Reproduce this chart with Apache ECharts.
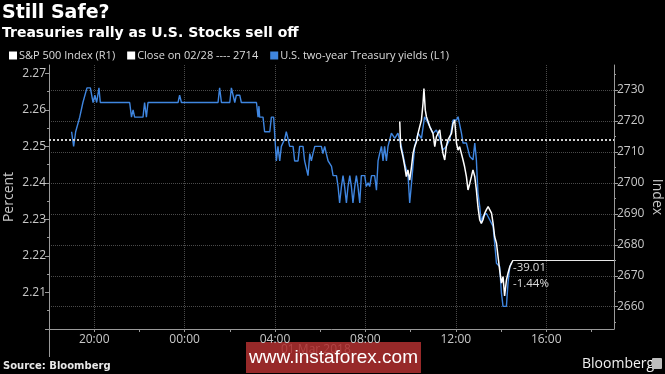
<!DOCTYPE html>
<html><head><meta charset="utf-8">
<script src="https://cdn.jsdelivr.net/npm/echarts@6/dist/echarts.min.js"></script>
<style>html,body{margin:0;padding:0;background:#000;}#c{width:665px;height:374px;}</style>
</head><body><div id="c"></div>
<script>
// x values are hours counted from 28 Feb 2018 00:00 (so 24 = 01 Mar 00:00)
const xLabelHours = [20, 24, 28, 32, 36, 40];
const xTickHours = [18, 20, 22, 24, 26, 28, 30, 32, 34, 36, 38, 40, 42];
const leftTicks = [2.21, 2.22, 2.23, 2.24, 2.25, 2.26, 2.27];
const leftTickMarks = [2.20, 2.21, 2.22, 2.23, 2.24, 2.25, 2.26, 2.27];
const leftMinorTicks = [2.205, 2.215, 2.225, 2.235, 2.245, 2.255, 2.265];
const rightTicks = [2660, 2670, 2680, 2690, 2700, 2710, 2720, 2730];
const rightMinorTicks = [2655, 2665, 2675, 2685, 2695, 2705, 2715, 2725, 2735];
const closeValue = 2714;
const spxChange = '-39.01';
const spxChangePct = '-1.44%';
const dateLabel = '01 Mar 2018';

const yieldHours = [
  19.00,19.09,19.18,19.36,19.50,19.68,19.83,19.95,20.03,20.11,20.21,20.27,
  21.57,21.65,21.72,21.79,22.16,22.23,22.31,22.38,23.71,23.78,23.86,
  25.48,25.55,25.63,26.00,26.07,26.14,26.22,26.29,26.44,26.51,
  27.18,27.25,27.29,27.32,27.47,27.54,27.77,27.84,27.94,
  28.00,28.06,28.13,28.21,28.28,28.43,28.50,28.58,28.65,28.80,28.87,
  29.02,29.09,29.24,29.31,29.46,29.54,29.61,29.68,29.76,
  30.05,30.12,30.20,30.27,30.35,30.42,30.50,30.57,30.72,30.79,30.86,30.94,
  31.01,31.08,31.16,31.23,31.31,31.38,31.45,31.53,31.60,31.67,31.75,31.82,31.97,
  32.04,32.12,32.19,32.27,32.41,32.49,32.56,32.63,32.71,32.78,32.85,32.93,
  33.00,33.15,33.30,33.44,33.59,33.74,33.89,33.96,
  34.04,34.18,34.33,34.48,34.62,34.70,34.85,34.99,
  35.14,35.29,35.43,35.58,35.73,35.88,
  36.03,36.10,36.25,36.32,36.47,36.62,36.76,36.84,36.91,36.98,
  37.06,37.13,37.20,37.35,37.50,37.65,37.72,37.80,37.94,
  38.02,38.09,38.24,38.31,38.39,38.46
];
const yieldValues = [
  2.254,2.250,2.254,2.258,2.262,2.266,2.266,2.262,2.264,2.262,2.266,2.262,
  2.262,2.258,2.260,2.258,2.258,2.262,2.258,2.262,2.262,2.264,2.262,
  2.262,2.266,2.262,2.262,2.266,2.266,2.262,2.264,2.264,2.262,
  2.262,2.258,2.261,2.258,2.258,2.254,2.254,2.258,2.258,
  2.252,2.246,2.250,2.246,2.250,2.252,2.254,2.252,2.250,2.250,2.246,
  2.246,2.250,2.250,2.246,2.242,2.248,2.246,2.248,2.250,
  2.250,2.248,2.250,2.248,2.246,2.246,2.2445,2.242,2.242,2.239,2.2345,2.239,
  2.242,2.239,2.2345,2.239,2.242,2.239,2.2345,2.239,2.242,2.239,2.2345,2.242,2.242,
  2.239,2.240,2.239,2.242,2.242,2.238,2.246,2.248,2.250,2.246,2.250,2.246,
  2.250,2.2536,2.2522,2.2536,2.250,2.2454,2.2417,2.2345,
  2.2399,2.250,2.2536,2.2522,2.2581,2.2572,2.2554,2.2536,
  2.2545,2.2522,2.249,2.250,2.2518,2.2572,
  2.2572,2.2581,2.2536,2.2509,2.2509,2.2472,2.2463,2.2509,2.2463,2.2372,
  2.2335,2.229,2.2308,2.2317,2.2299,2.2281,2.2235,2.218,2.2171,
  2.2098,2.2062,2.2062,2.2126,2.2171,2.218
];

const spxHours = [
  33.52,33.56,33.66,33.74,33.81,33.88,33.96,34.04,34.11,34.18,34.26,34.33,34.40,34.48,34.55,34.59,34.65,34.70,34.85,34.99,
  35.07,35.14,35.29,35.36,35.43,35.51,35.58,35.65,35.81,35.88,35.95,36.03,36.10,36.17,36.32,36.39,36.47,36.54,36.62,36.69,
  36.76,36.84,36.91,36.98,37.06,37.13,37.20,37.28,37.35,37.43,37.50,37.58,37.65,37.72,37.80,37.87,37.94,38.02,38.09,38.16,
  38.24,38.31,38.39,38.46,38.53
];
const spxValues = [
  2719.8,2711.7,2708.5,2705.3,2702.0,2704.2,2700.9,2705.2,2709.6,2711.7,2713.3,2716.0,2718.1,2720.3,2725.7,2730.5,2723.5,2721.4,2718.1,2716.0,
  2711.7,2714.9,2717.1,2712.8,2709.6,2707.4,2711.7,2713.9,2716.0,2719.2,2720.3,2712.8,2710.6,2711.7,2707.4,2705.2,2702.0,2697.7,2699.9,2702.0,
  2704.2,2702.0,2697.7,2692.3,2688.0,2686.9,2688.0,2690.2,2691.3,2692.3,2692.9,2690.2,2686.9,2682.6,2680.5,2676.2,2671.9,2667.6,2669.7,2663.5,
  2668.6,2670.8,2672.9,2674.0,2675.0
];

function pairs(xs, ys) {
  const n = Math.min(xs.length, ys.length), out = [];
  for (let i = 0; i < n; i++) out.push([xs[i], ys[i]]);
  return out;
}
const yieldData = pairs(yieldHours, yieldValues);
const spxData = pairs(spxHours, spxValues);
const spxLast = spxData[spxData.length - 1];

const X_MIN = 18, X_MAX = 43;
const L_MIN = 2.20, L_MAX = 2.27227;
const R_MIN = 2652.8, R_MAX = 2738.08;
const labelColor = '#c8c8c8';
const axisColor = '#9a9a9a';
const gridColor = '#4a4a4a';
const tickFont = 'Open Sans';

function minorAxis(position, min, max, values) {
  return {
    type: 'value', position: position, min: min, max: max,
    axisLine: {show: false},
    axisTick: {show: true, customValues: values, length: 2, lineStyle: {color: axisColor}},
    axisLabel: {show: false},
    splitLine: {show: false}
  };
}

const chart = echarts.init(document.getElementById('c'), null, {renderer: 'canvas'});
chart.setOption({
  backgroundColor: '#000',
  animation: false,
  title: {
    left: 0, top: 3, padding: [0, 0, 0, 2], itemGap: 0,
    text: 'Still Safe?',
    textStyle: {color: '#fff', fontFamily: 'DejaVu Sans', fontWeight: 'bold', fontSize: 19, lineHeight: 21},
    subtext: 'Treasuries rally as U.S. Stocks sell off',
    subtextStyle: {color: '#fff', fontFamily: 'DejaVu Sans', fontWeight: 'bold', fontSize: 14, lineHeight: 18}
  },
  legend: {
    left: 9, top: 50, padding: 0, itemGap: 12, itemWidth: 8, itemHeight: 8, icon: 'rect',
    textStyle: {color: '#dcdcdc', fontFamily: tickFont, fontSize: 11, padding: [0, 0, 0, -3]},
    data: ['S&P 500 Index (R1)', 'Close on 02/28 ---- ' + closeValue, 'U.S. two-year Treasury yields (L1)']
  },
  grid: {left: 49, right: 51, top: 65, bottom: 45, containLabel: false, outerBoundsMode: 'none'},
  xAxis: [
    {
      type: 'value', min: X_MIN, max: X_MAX, position: 'bottom',
      axisLine: {onZero: false, lineStyle: {color: axisColor, width: 1}},
      axisTick: {show: false, customValues: xLabelHours},
      axisLabel: {
        customValues: xLabelHours, color: labelColor, fontFamily: tickFont, fontSize: 12, margin: 5,
        formatter: v => String(Math.round(v) % 24).padStart(2, '0') + ':00'
      },
      splitLine: {show: true, lineStyle: {color: gridColor, type: 'dotted', width: 1}}
    },
    {
      type: 'value', min: X_MIN, max: X_MAX, position: 'bottom',
      axisLine: {show: false, onZero: false},
      axisTick: {show: true, customValues: xTickHours, length: 3, lineStyle: {color: axisColor}},
      axisLabel: {show: false},
      splitLine: {show: false}
    },
    {
      type: 'value', min: X_MIN, max: X_MAX, position: 'bottom',
      axisLine: {show: false, onZero: false},
      axisTick: {show: true, customValues: [X_MIN], length: 28, lineStyle: {color: axisColor}},
      axisLabel: {show: false},
      splitLine: {show: false}
    }
  ],
  yAxis: [
    {
      type: 'value', position: 'left', min: L_MIN, max: L_MAX,
      name: 'Percent', nameLocation: 'middle', nameGap: 33, nameRotate: 90, nameMoveOverlap: false,
      nameTextStyle: {color: labelColor, fontFamily: tickFont, fontSize: 14},
      axisLine: {show: true, lineStyle: {color: axisColor}},
      axisTick: {show: true, customValues: leftTickMarks, length: 4, lineStyle: {color: axisColor}},
      axisLabel: {customValues: leftTicks, color: labelColor, fontFamily: tickFont, fontSize: 12, margin: 3,
        formatter: v => v.toFixed(2)},
      splitLine: {show: false}
    },
    {
      type: 'value', position: 'right', min: R_MIN, max: R_MAX,
      name: 'Index', nameLocation: 'middle', nameGap: 36, nameRotate: -90, nameMoveOverlap: false,
      nameTextStyle: {color: labelColor, fontFamily: tickFont, fontSize: 14},
      axisLine: {show: true, lineStyle: {color: axisColor}},
      axisTick: {show: true, customValues: rightTicks, length: 4, lineStyle: {color: axisColor}},
      axisLabel: {customValues: rightTicks, color: labelColor, fontFamily: tickFont, fontSize: 12, margin: 3,
        formatter: v => String(Math.round(v))},
      splitLine: {show: true, lineStyle: {color: gridColor, type: 'dotted', width: 1}}
    },
    minorAxis('left', L_MIN, L_MAX, leftMinorTicks),
    minorAxis('right', R_MIN, R_MAX, rightMinorTicks)
  ],
  series: [
    {
      name: 'S&P 500 Index (R1)', type: 'line', xAxisIndex: 0, yAxisIndex: 1, z: 4,
      data: spxData, showSymbol: false, symbol: 'none',
      itemStyle: {color: '#ffffff'},
      lineStyle: {color: '#ffffff', width: 1.5},
      markLine: {
        silent: true, symbol: 'none', label: {show: false},
        lineStyle: {color: '#e6e6e6', type: 'solid', width: 1},
        data: [[{coord: [spxLast[0], spxLast[1]]}, {coord: [X_MAX, spxLast[1]]}]]
      },
      markPoint: {
        silent: true, symbol: 'rect', symbolSize: 0,
        data: [{coord: [spxLast[0], spxLast[1]]}],
        label: {show: true, position: 'right', distance: 0, offset: [0, 15], align: 'left',
          color: '#dcdcdc', fontFamily: tickFont, fontSize: 11.5, lineHeight: 16,
          formatter: spxChange + '\n' + spxChangePct}
      }
    },
    {
      name: 'Close on 02/28 ---- ' + closeValue, type: 'line', xAxisIndex: 0, yAxisIndex: 1, z: 3,
      data: [], itemStyle: {color: '#ffffff'},
      markLine: {
        silent: true, symbol: 'none', label: {show: false},
        lineStyle: {color: '#d0d0d0', type: 'dotted', width: 2},
        data: [{yAxis: closeValue}]
      }
    },
    {
      name: 'U.S. two-year Treasury yields (L1)', type: 'line', xAxisIndex: 0, yAxisIndex: 0, z: 3,
      data: yieldData, showSymbol: false, symbol: 'none',
      itemStyle: {color: '#3f86e0'},
      lineStyle: {color: '#3f86e0', width: 1.4}
    }
  ],
  graphic: [
    {type: 'text', x: 3, y: 366, style: {text: 'Source: Bloomberg', fill: '#e8e8e8',
      font: 'bold 10px "DejaVu Sans"', verticalAlign: 'middle'}},
    {type: 'text', x: 582, y: 364, style: {text: 'Bloomberg', fill: '#f0f0f0',
      font: '14px "Open Sans"', verticalAlign: 'middle'}},
    {type: 'rect', x: 652, y: 358, shape: {width: 10, height: 11, r: 1}, style: {fill: '#bdbdbd'}},
    {type: 'text', x: 281, y: 350, style: {text: dateLabel, fill: '#b0b0b0', font: '12px "Open Sans"',
      verticalAlign: 'middle'}},
    {type: 'rect', x: 246, y: 342, shape: {width: 175, height: 31}, style: {fill: 'rgba(178,48,48,0.85)'}},
    {type: 'text', x: 333.5, y: 358, style: {text: 'www.instaforex.com', fill: '#ffffff',
      font: '19px "Liberation Sans"', align: 'center', verticalAlign: 'middle'}}
  ]
});
</script></body></html>
